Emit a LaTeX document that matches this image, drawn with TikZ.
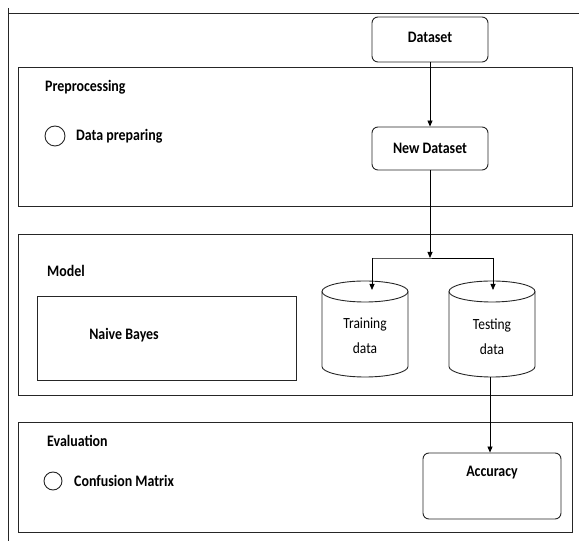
\documentclass[tikz,border=0pt]{standalone}
\usepackage{fontspec}
\setmainfont{Carlito}[FakeStretch=0.87]
\usetikzlibrary{arrows.meta}
\begin{document}
\begin{tikzpicture}[x=1pt,y=1pt,
  line/.style={draw=black!85,line width=0.9pt},
  panel/.style={line,rectangle,inner sep=0pt},
  roundbox/.style={line,rectangle,rounded corners=6pt,inner sep=0pt},
  lbl/.style={anchor=west,inner sep=0pt,font=\bfseries\fontsize{16}{19}\selectfont},
  boxtext/.style={inner sep=0pt,font=\bfseries\fontsize{16}{19}\selectfont},
  dbtext/.style={inner sep=0pt,align=center,font=\fontsize{15.5}{25}\selectfont},
  bullet/.style={line,circle,inner sep=0pt},
  arr/.style={draw=black,line width=0.8pt,-{Triangle[length=6pt,width=5pt]}}
]
\useasboundingbox (0,0) rectangle (579,541);

% outer frame edges
\draw[line] (8,533) -- (8,0);
\draw[line] (8,528) -- (579,528);

% source data
\node[roundbox,minimum width=116pt,minimum height=45pt] (ds) at (430,501.5) {};
\node[boxtext] (dslbl) at (430,504) {Dataset};

% preprocessing stage
\node[panel,minimum width=554pt,minimum height=139pt] (pre) at (295,404.5) {};
\node[lbl] (prelbl) at (45,454) {Preprocessing};
\node[bullet,minimum size=20pt] (c1) at (55,405) {};
\node[lbl] (prep) at (76,405) {Data preparing};
\node[roundbox,minimum width=116pt,minimum height=43pt] (nds) at (430,392.5) {};
\node[boxtext] (ndslbl) at (430,392.5) {New Dataset};

% model stage
\node[panel,minimum width=554pt,minimum height=161pt] (model) at (295,226.5) {};
\node[lbl] (modellbl) at (47,270) {Model};
\node[panel,minimum width=259pt,minimum height=84pt] (nb) at (166.5,203) {};
\node[boxtext] (nblbl) at (124,206) {Naive Bayes};

% data stores
\draw[line] (322,249.5) -- (322,174.5) arc[start angle=180,end angle=360,x radius=43pt,y radius=10.5pt] -- (408,249.5);
\draw[line] (365,249.5) ellipse[x radius=43pt,y radius=10.5pt];
\node[dbtext] (train) at (365,205.5) {Training\\data};
\draw[line] (449,249.5) -- (449,174.5) arc[start angle=180,end angle=360,x radius=43pt,y radius=10.5pt] -- (535,249.5);
\draw[line] (492,249.5) ellipse[x radius=43pt,y radius=10.5pt];
\node[dbtext] (test) at (492,204.5) {Testing\\data};

\coordinate (split) at (430,283);
\coordinate (trtop) at (372,251);
\coordinate (tetop) at (493,251);
\coordinate (tebot) at (490,164);

% evaluation stage
\node[panel,minimum width=554pt,minimum height=110pt] (eval) at (295,64) {};
\node[lbl] (evallbl) at (47,100) {Evaluation};
\node[bullet,minimum size=18pt] (c2) at (53,60) {};
\node[lbl] (cm) at (74,60) {Confusion Matrix};
\node[roundbox,minimum width=138pt,minimum height=66pt] (acc) at (492,55) {};
\node[boxtext] (acclbl) at (492,68) {Accuracy};

% flow
\draw[arr] (ds.south) -- (nds.north);
\draw[arr] (nds.south) -- (split);
\draw[line,line width=0.8pt,draw=black] (split) -- (trtop |- split) -- (tetop |- split);
\draw[arr] (trtop |- split) -- (trtop);
\draw[arr] (tetop |- split) -- (tetop);
\draw[arr] (tebot) -- (tebot |- acc.north);
\end{tikzpicture}
\end{document}
